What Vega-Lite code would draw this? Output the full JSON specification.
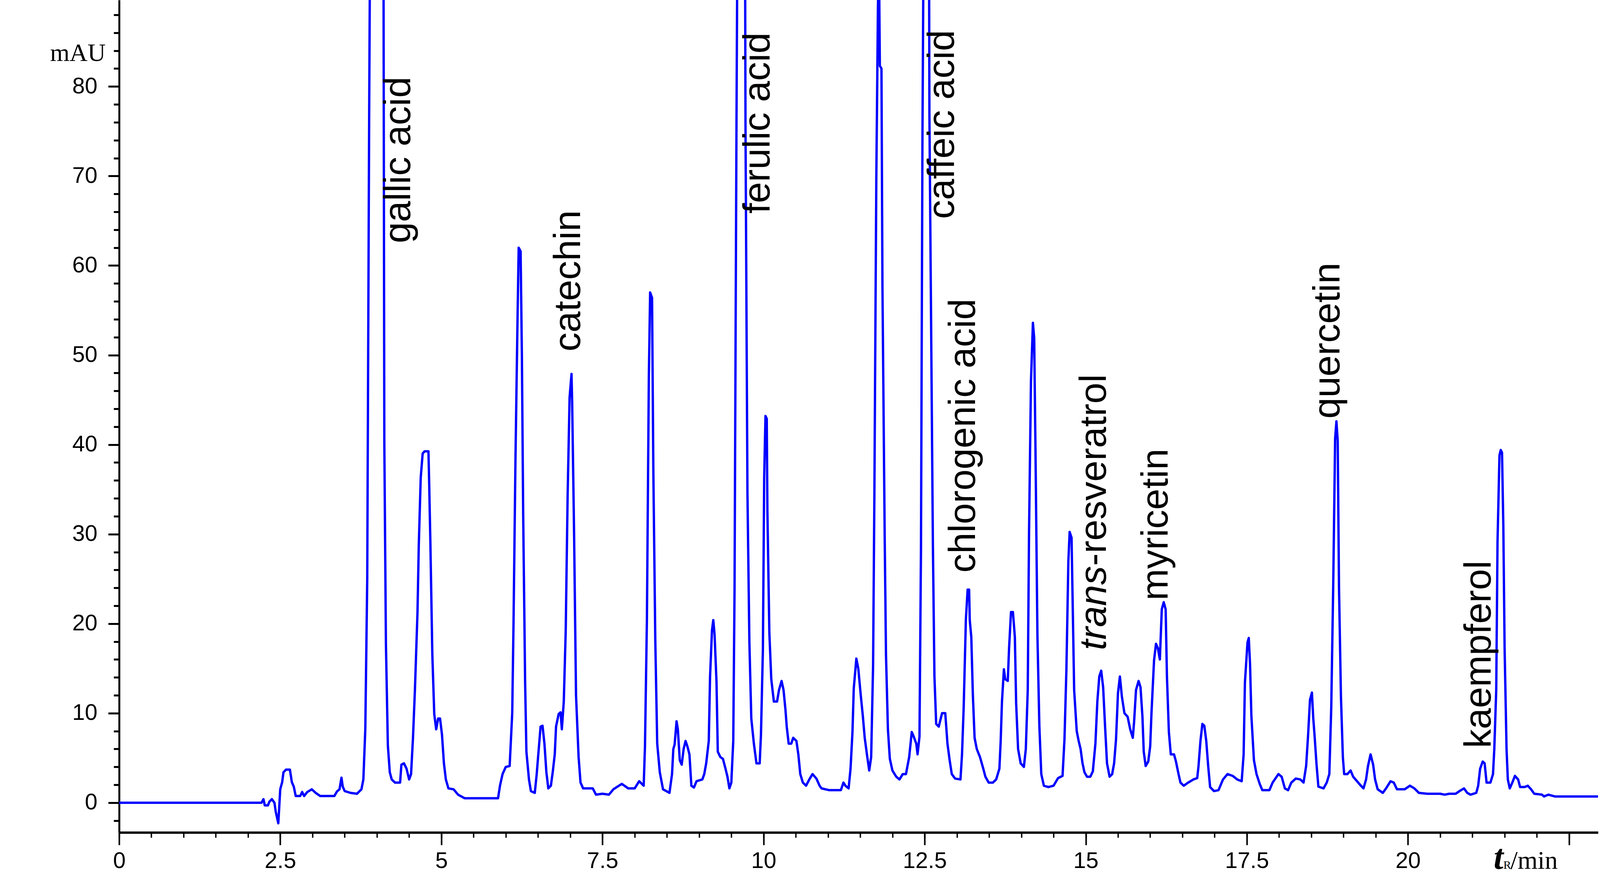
{
  "$schema": "https://vega.github.io/schema/vega-lite/v6.json",
  "width": 3786,
  "height": 2130,
  "autosize": {"type": "none"},
  "padding": {"left": 305, "top": 0, "right": 5, "bottom": 114},
  "background": "white",
  "datasets": {
    "trace": [
      {"t":0,"v":0},{"t":2.21,"v":0},{"t":2.24,"v":0.4},{"t":2.26,"v":-0.3},{"t":2.31,"v":-0.3},{"t":2.33,"v":0.1},{"t":2.37,"v":0.4},{"t":2.41,"v":0},{"t":2.43,"v":-1},{"t":2.47,"v":-2.3},{"t":2.5,"v":1.5},{"t":2.53,"v":2.3},{"t":2.55,"v":3.4},{"t":2.59,"v":3.7},{"t":2.65,"v":3.7},{"t":2.68,"v":2.3},{"t":2.71,"v":1.8},{"t":2.74,"v":0.75},{"t":2.81,"v":0.75},{"t":2.84,"v":1.2},{"t":2.87,"v":0.75},{"t":2.92,"v":1.2},{"t":2.99,"v":1.5},{"t":3.05,"v":1.1},{"t":3.12,"v":0.75},{"t":3.34,"v":0.75},{"t":3.38,"v":1.25},{"t":3.42,"v":1.5},{"t":3.45,"v":2.8},{"t":3.47,"v":1.8},{"t":3.5,"v":1.3},{"t":3.59,"v":1.1},{"t":3.69,"v":1.0},{"t":3.76,"v":1.5},{"t":3.79,"v":2.6},{"t":3.82,"v":8.2},{"t":3.85,"v":25},{"t":3.88,"v":77},{"t":3.9,"v":105},{"t":4.0,"v":160},{"t":4.1,"v":105},{"t":4.115,"v":40.4},{"t":4.14,"v":17.75},{"t":4.17,"v":6.4},{"t":4.2,"v":3.4},{"t":4.23,"v":2.6},{"t":4.28,"v":2.25},{"t":4.36,"v":2.25},{"t":4.38,"v":4.25},{"t":4.42,"v":4.4},{"t":4.46,"v":3.8},{"t":4.5,"v":2.6},{"t":4.53,"v":3.2},{"t":4.56,"v":7.25},{"t":4.59,"v":12.6},{"t":4.63,"v":21.3},{"t":4.65,"v":28.8},{"t":4.68,"v":36.3},{"t":4.71,"v":39},{"t":4.74,"v":39.25},{"t":4.8,"v":39.25},{"t":4.81,"v":36.1},{"t":4.83,"v":29},{"t":4.86,"v":16.6},{"t":4.89,"v":9.9},{"t":4.92,"v":8.2},{"t":4.95,"v":9.4},{"t":4.98,"v":9.4},{"t":5.01,"v":7.6},{"t":5.04,"v":4.4},{"t":5.07,"v":2.6},{"t":5.11,"v":1.6},{"t":5.19,"v":1.5},{"t":5.26,"v":0.9},{"t":5.36,"v":0.5},{"t":5.88,"v":0.5},{"t":5.91,"v":1.9},{"t":5.95,"v":3.2},{"t":6.0,"v":4},{"t":6.06,"v":4.1},{"t":6.1,"v":10},{"t":6.12,"v":20},{"t":6.15,"v":38.2},{"t":6.18,"v":53},{"t":6.2,"v":62},{"t":6.23,"v":61.6},{"t":6.25,"v":50},{"t":6.27,"v":32.2},{"t":6.3,"v":13.5},{"t":6.32,"v":5.7},{"t":6.36,"v":2.6},{"t":6.39,"v":1.3},{"t":6.45,"v":1.1},{"t":6.48,"v":3.2},{"t":6.5,"v":5},{"t":6.54,"v":8.5},{"t":6.57,"v":8.6},{"t":6.6,"v":6.6},{"t":6.63,"v":3.4},{"t":6.66,"v":1.6},{"t":6.7,"v":1.9},{"t":6.73,"v":3.5},{"t":6.76,"v":5.4},{"t":6.78,"v":8.5},{"t":6.82,"v":9.9},{"t":6.85,"v":10.1},{"t":6.87,"v":8.2},{"t":6.9,"v":11.3},{"t":6.93,"v":19.2},{"t":6.96,"v":34.4},{"t":6.99,"v":45.25},{"t":7.02,"v":47.9},{"t":7.03,"v":44.75},{"t":7.06,"v":30},{"t":7.09,"v":12},{"t":7.13,"v":5.1},{"t":7.16,"v":2.25},{"t":7.2,"v":1.6},{"t":7.35,"v":1.6},{"t":7.4,"v":0.9},{"t":7.5,"v":1.0},{"t":7.6,"v":0.9},{"t":7.67,"v":1.5},{"t":7.8,"v":2.1},{"t":7.9,"v":1.6},{"t":8.0,"v":1.6},{"t":8.07,"v":2.4},{"t":8.14,"v":1.9},{"t":8.16,"v":6.3},{"t":8.19,"v":20.4},{"t":8.22,"v":47.6},{"t":8.24,"v":57},{"t":8.27,"v":56.4},{"t":8.29,"v":37},{"t":8.32,"v":18.2},{"t":8.35,"v":6.6},{"t":8.39,"v":3.4},{"t":8.44,"v":1.5},{"t":8.54,"v":1.1},{"t":8.58,"v":3.2},{"t":8.6,"v":6},{"t":8.62,"v":6.5},{"t":8.65,"v":9.1},{"t":8.67,"v":8.2},{"t":8.7,"v":4.75},{"t":8.73,"v":4.25},{"t":8.76,"v":6},{"t":8.79,"v":6.9},{"t":8.82,"v":6.25},{"t":8.85,"v":5.4},{"t":8.88,"v":1.9},{"t":8.92,"v":1.7},{"t":8.96,"v":2.4},{"t":9.05,"v":2.6},{"t":9.08,"v":3.2},{"t":9.11,"v":4.4},{"t":9.15,"v":6.9},{"t":9.17,"v":14.1},{"t":9.2,"v":19.25},{"t":9.22,"v":20.4},{"t":9.24,"v":18.8},{"t":9.27,"v":13.5},{"t":9.29,"v":5.7},{"t":9.33,"v":5.1},{"t":9.37,"v":4.9},{"t":9.41,"v":3.8},{"t":9.44,"v":2.9},{"t":9.47,"v":1.6},{"t":9.5,"v":2.25},{"t":9.53,"v":6.9},{"t":9.55,"v":23.8},{"t":9.58,"v":75.7},{"t":9.6,"v":105},{"t":9.66,"v":170},{"t":9.71,"v":105},{"t":9.72,"v":75.5},{"t":9.75,"v":34.75},{"t":9.78,"v":18},{"t":9.81,"v":9.4},{"t":9.85,"v":6.6},{"t":9.89,"v":4.4},{"t":9.94,"v":4.4},{"t":9.96,"v":7.6},{"t":9.99,"v":17.1},{"t":10.01,"v":36.3},{"t":10.03,"v":43.2},{"t":10.05,"v":42.9},{"t":10.06,"v":32.6},{"t":10.09,"v":19},{"t":10.12,"v":13.8},{"t":10.16,"v":11.3},{"t":10.21,"v":11.3},{"t":10.24,"v":12.6},{"t":10.28,"v":13.6},{"t":10.31,"v":12.6},{"t":10.34,"v":10.4},{"t":10.36,"v":8.5},{"t":10.39,"v":6.6},{"t":10.43,"v":6.6},{"t":10.46,"v":7.25},{"t":10.51,"v":6.9},{"t":10.54,"v":5.4},{"t":10.57,"v":3.2},{"t":10.61,"v":2.25},{"t":10.66,"v":1.9},{"t":10.71,"v":2.6},{"t":10.76,"v":3.2},{"t":10.82,"v":2.7},{"t":10.87,"v":1.9},{"t":10.9,"v":1.6},{"t":11.02,"v":1.4},{"t":11.2,"v":1.4},{"t":11.24,"v":2.25},{"t":11.27,"v":1.9},{"t":11.32,"v":1.6},{"t":11.35,"v":3.8},{"t":11.38,"v":7.9},{"t":11.4,"v":12.75},{"t":11.44,"v":16.1},{"t":11.47,"v":15},{"t":11.51,"v":11.9},{"t":11.54,"v":9.75},{"t":11.57,"v":7.25},{"t":11.61,"v":5.1},{"t":11.64,"v":3.6},{"t":11.67,"v":5.1},{"t":11.7,"v":15.4},{"t":11.72,"v":34.4},{"t":11.75,"v":69.75},{"t":11.775,"v":88.8},{"t":11.79,"v":95},{"t":11.805,"v":82.3},{"t":11.83,"v":82},{"t":11.845,"v":57.9},{"t":11.88,"v":29.75},{"t":11.9,"v":16.6},{"t":11.93,"v":8.2},{"t":11.96,"v":4.9},{"t":12.0,"v":3.6},{"t":12.06,"v":2.9},{"t":12.11,"v":2.6},{"t":12.16,"v":3.2},{"t":12.21,"v":3.2},{"t":12.26,"v":5.1},{"t":12.3,"v":7.9},{"t":12.33,"v":7.4},{"t":12.37,"v":6.6},{"t":12.39,"v":5.4},{"t":12.42,"v":7.4},{"t":12.443,"v":28.2},{"t":12.466,"v":74.25},{"t":12.49,"v":105},{"t":12.53,"v":170},{"t":12.565,"v":105},{"t":12.574,"v":76.9},{"t":12.628,"v":28.8},{"t":12.652,"v":14.1},{"t":12.679,"v":8.8},{"t":12.719,"v":8.5},{"t":12.77,"v":10},{"t":12.82,"v":10},{"t":12.854,"v":6.6},{"t":12.888,"v":4.75},{"t":12.921,"v":3.2},{"t":12.972,"v":2.7},{"t":13.056,"v":2.6},{"t":13.08,"v":5.4},{"t":13.106,"v":10.7},{"t":13.14,"v":20.5},{"t":13.167,"v":23.8},{"t":13.19,"v":23.8},{"t":13.2,"v":20.4},{"t":13.224,"v":18.5},{"t":13.248,"v":12.1},{"t":13.275,"v":7.25},{"t":13.309,"v":6},{"t":13.359,"v":5.1},{"t":13.41,"v":3.8},{"t":13.443,"v":2.9},{"t":13.494,"v":2.25},{"t":13.56,"v":2.25},{"t":13.61,"v":2.6},{"t":13.66,"v":3.8},{"t":13.68,"v":6.9},{"t":13.7,"v":11.3},{"t":13.73,"v":14.9},{"t":13.75,"v":13.8},{"t":13.79,"v":13.6},{"t":13.81,"v":17.25},{"t":13.84,"v":21.3},{"t":13.87,"v":21.3},{"t":13.9,"v":18.5},{"t":13.92,"v":11.1},{"t":13.95,"v":6},{"t":13.99,"v":4.4},{"t":14.04,"v":4},{"t":14.07,"v":6},{"t":14.1,"v":12.6},{"t":14.12,"v":30.25},{"t":14.15,"v":47.1},{"t":14.18,"v":53.6},{"t":14.2,"v":51.9},{"t":14.22,"v":39.4},{"t":14.25,"v":18.8},{"t":14.28,"v":8.6},{"t":14.31,"v":3.2},{"t":14.35,"v":1.9},{"t":14.42,"v":1.75},{"t":14.5,"v":1.9},{"t":14.57,"v":2.75},{"t":14.64,"v":3},{"t":14.67,"v":7.1},{"t":14.7,"v":14.9},{"t":14.73,"v":26.9},{"t":14.75,"v":30.25},{"t":14.78,"v":29.6},{"t":14.8,"v":21.1},{"t":14.82,"v":12.6},{"t":14.86,"v":8},{"t":14.89,"v":6.9},{"t":14.92,"v":6},{"t":14.95,"v":4.4},{"t":14.98,"v":3.4},{"t":15.02,"v":2.9},{"t":15.07,"v":2.9},{"t":15.11,"v":3.5},{"t":15.15,"v":6.6},{"t":15.18,"v":11.3},{"t":15.21,"v":14.1},{"t":15.24,"v":14.75},{"t":15.27,"v":12.9},{"t":15.3,"v":8.5},{"t":15.33,"v":4.4},{"t":15.37,"v":2.9},{"t":15.41,"v":3.2},{"t":15.44,"v":4.4},{"t":15.47,"v":7.1},{"t":15.5,"v":12.25},{"t":15.53,"v":14.1},{"t":15.56,"v":11.9},{"t":15.6,"v":10},{"t":15.65,"v":9.6},{"t":15.69,"v":8.2},{"t":15.73,"v":7.25},{"t":15.75,"v":9},{"t":15.78,"v":12.6},{"t":15.82,"v":13.6},{"t":15.85,"v":12.9},{"t":15.88,"v":9.6},{"t":15.9,"v":5.7},{"t":15.93,"v":4.1},{"t":15.97,"v":4.6},{"t":16.0,"v":6.3},{"t":16.02,"v":10},{"t":16.06,"v":15.9},{"t":16.09,"v":17.75},{"t":16.12,"v":17.25},{"t":16.15,"v":16},{"t":16.18,"v":21.6},{"t":16.21,"v":22.4},{"t":16.24,"v":21.6},{"t":16.26,"v":14.1},{"t":16.29,"v":7.9},{"t":16.32,"v":5.4},{"t":16.37,"v":5.4},{"t":16.4,"v":4.6},{"t":16.44,"v":3.2},{"t":16.47,"v":2.25},{"t":16.52,"v":1.9},{"t":16.59,"v":2.25},{"t":16.67,"v":2.6},{"t":16.73,"v":2.75},{"t":16.75,"v":4.1},{"t":16.78,"v":6.9},{"t":16.81,"v":8.8},{"t":16.84,"v":8.6},{"t":16.87,"v":6.9},{"t":16.9,"v":4.1},{"t":16.93,"v":1.75},{"t":16.99,"v":1.3},{"t":17.06,"v":1.4},{"t":17.13,"v":2.6},{"t":17.2,"v":3.2},{"t":17.28,"v":3.0},{"t":17.35,"v":2.6},{"t":17.42,"v":2.4},{"t":17.45,"v":5.4},{"t":17.47,"v":13.4},{"t":17.51,"v":17.9},{"t":17.53,"v":18.4},{"t":17.55,"v":15.4},{"t":17.57,"v":9.75},{"t":17.61,"v":4.75},{"t":17.65,"v":3.2},{"t":17.7,"v":2.1},{"t":17.74,"v":1.4},{"t":17.85,"v":1.4},{"t":17.9,"v":2.25},{"t":17.99,"v":3.2},{"t":18.04,"v":2.9},{"t":18.09,"v":1.6},{"t":18.14,"v":1.4},{"t":18.19,"v":2.25},{"t":18.26,"v":2.7},{"t":18.33,"v":2.6},{"t":18.38,"v":2.25},{"t":18.42,"v":4.1},{"t":18.45,"v":7.5},{"t":18.48,"v":11.5},{"t":18.51,"v":12.3},{"t":18.53,"v":9.5},{"t":18.55,"v":7.6},{"t":18.58,"v":4.4},{"t":18.61,"v":1.8},{"t":18.69,"v":1.6},{"t":18.74,"v":2.25},{"t":18.78,"v":3.2},{"t":18.81,"v":10.7},{"t":18.84,"v":24.1},{"t":18.87,"v":40.7},{"t":18.89,"v":42.6},{"t":18.91,"v":40.4},{"t":18.93,"v":24.1},{"t":18.96,"v":11.9},{"t":18.99,"v":5.1},{"t":19.01,"v":3.2},{"t":19.06,"v":3.2},{"t":19.11,"v":3.6},{"t":19.15,"v":2.9},{"t":19.21,"v":2.4},{"t":19.27,"v":1.9},{"t":19.31,"v":1.6},{"t":19.35,"v":2.6},{"t":19.38,"v":4.1},{"t":19.42,"v":5.4},{"t":19.46,"v":4.25},{"t":19.49,"v":2.6},{"t":19.53,"v":1.5},{"t":19.61,"v":1.1},{"t":19.66,"v":1.6},{"t":19.73,"v":2.4},{"t":19.78,"v":2.25},{"t":19.83,"v":1.5},{"t":19.95,"v":1.5},{"t":20.03,"v":1.9},{"t":20.1,"v":1.6},{"t":20.17,"v":1.1},{"t":20.3,"v":1.0},{"t":20.5,"v":1.0},{"t":20.57,"v":0.9},{"t":20.64,"v":1.0},{"t":20.74,"v":1.0},{"t":20.8,"v":1.3},{"t":20.87,"v":1.6},{"t":20.92,"v":1.1},{"t":20.97,"v":0.9},{"t":21.06,"v":1.1},{"t":21.09,"v":1.9},{"t":21.12,"v":3.8},{"t":21.16,"v":4.6},{"t":21.19,"v":4.4},{"t":21.22,"v":2.25},{"t":21.28,"v":2.25},{"t":21.32,"v":3.2},{"t":21.34,"v":6},{"t":21.37,"v":12.6},{"t":21.39,"v":29.1},{"t":21.42,"v":38.8},{"t":21.44,"v":39.4},{"t":21.46,"v":39.1},{"t":21.48,"v":31},{"t":21.5,"v":17.25},{"t":21.53,"v":6},{"t":21.55,"v":2.6},{"t":21.58,"v":1.6},{"t":21.62,"v":2.25},{"t":21.66,"v":3.0},{"t":21.71,"v":2.6},{"t":21.74,"v":1.75},{"t":21.81,"v":1.75},{"t":21.86,"v":1.9},{"t":21.91,"v":1.5},{"t":21.96,"v":1.0},{"t":22.08,"v":0.9},{"t":22.11,"v":0.7},{"t":22.18,"v":0.9},{"t":22.28,"v":0.7},{"t":22.95,"v":0.7}
    ],
    "peaks": [
      {"t": 4.518, "v": 62.5, "label": "gallic acid"},
      {"t": 7.15, "v": 50.4, "label": "catechin"},
      {"t": 10.09, "v": 65.8, "label": "ferulic acid"},
      {"t": 12.955, "v": 65.2, "label": "caffeic acid"},
      {"t": 13.28, "v": 25.7, "label": "chlorogenic acid"},
      {"t": 15.31, "v": 26.45, "label": "-resveratrol"},
      {"t": 16.27, "v": 22.6, "label": "myricetin"},
      {"t": 18.94, "v": 42.9, "label": "quercetin"},
      {"t": 21.28, "v": 6.1, "label": "kaempferol"}
    ]
  },
  "layer": [
    {
      "mark": {"type": "rect", "filled": false, "stroke": "black", "strokeWidth": 7},
      "encoding": {
        "x": {
          "datum": -1.825, "type": "quantitative",
          "scale": {"domain": [0, 22.95], "nice": false, "zero": false},
          "axis": {"orient": "bottom", "values": [0,0.5,1,1.5,2,2.5,3,3.5,4,4.5,5,5.5,6,6.5,7,7.5,8,8.5,9,9.5,10,10.5,11,11.5,12,12.5,13,13.5,14,14.5,15,15.5,16,16.5,17,17.5,18,18.5,19,19.5,20,20.5,21,21.5,22,22.5],
                   "labels": false, "domain": false, "grid": false, "title": null, "tickSize": 13, "tickWidth": 3.5, "tickColor": "black"}
        },
        "x2": {"datum": 22.956},
        "y": {
          "datum": -8.12, "type": "quantitative",
          "scale": {"domain": [-3.32, 89.66], "nice": false, "zero": false},
          "axis": {"orient": "left", "values": [-2,0,2,4,6,8,10,12,14,16,18,20,22,24,26,28,30,32,34,36,38,40,42,44,46,48,50,52,54,56,58,60,62,64,66,68,70,72,74,76,78,80,82,84,86,88],
                   "labels": false, "domain": false, "grid": false, "title": null, "tickSize": 14, "tickWidth": 5, "tickColor": "black"}
        },
        "y2": {"datum": 95}
      }
    },
    {
      "data": {"name": "trace"},
      "mark": {"type": "line", "color": "#0000ff", "strokeWidth": 6, "clip": true, "strokeJoin": "round"},
      "encoding": {
        "x": {
          "field": "t", "type": "quantitative",
          "scale": {"domain": [0, 22.95], "nice": false, "zero": false},
          "axis": {"orient": "bottom", "values": [0,2.5,5,7.5,10,12.5,15,17.5,20,22.5],
                   "labelExpr": "datum.value == 22.5 ? '' : '' + datum.value",
                   "grid": false, "title": null, "tickSize": 32, "tickWidth": 4, "tickColor": "black",
                   "domainWidth": 6, "domainColor": "black", "labelPadding": 12,
                   "labelFont": "Liberation Sans", "labelFontSize": 58, "labelColor": "black", "labelFlush": false, "labelOverlap": false}
        },
        "y": {
          "field": "v", "type": "quantitative",
          "scale": {"domain": [-3.32, 89.66], "nice": false, "zero": false},
          "axis": {"orient": "left", "values": [0,10,20,30,40,50,60,70,80],
                   "grid": false, "tickSize": 28, "tickWidth": 5, "tickColor": "black",
                   "domainWidth": 5, "domainColor": "black", "labelPadding": 28,
                   "labelFont": "Liberation Sans", "labelFontSize": 58, "labelColor": "black", "labelFlush": false, "labelOverlap": false,
                   "title": "mAU", "titleAngle": 0, "titleAlign": "right", "titleBaseline": "alphabetic",
                   "titleX": -35, "titleY": 155, "titleFont": "Liberation Serif", "titleFontSize": 64,
                   "titleFontWeight": "normal", "titleColor": "black"}
        }
      }
    },
    {
      "data": {"name": "peaks"},
      "mark": {"type": "text", "angle": 270, "align": "left", "baseline": "alphabetic",
               "font": "Liberation Sans", "fontSize": 97, "color": "black"},
      "encoding": {
        "x": {"field": "t", "type": "quantitative", "axis": null},
        "y": {"field": "v", "type": "quantitative", "axis": null},
        "text": {"field": "label"}
      }
    },
    {
      "data": {"values": [{"t": 15.31, "v": 26.45, "label": "trans"}]},
      "mark": {"type": "text", "angle": 270, "align": "right", "baseline": "alphabetic",
               "font": "Liberation Sans", "fontSize": 97, "fontStyle": "italic", "color": "black"},
      "encoding": {
        "x": {"field": "t", "type": "quantitative", "axis": null},
        "y": {"field": "v", "type": "quantitative", "axis": null},
        "text": {"field": "label"}
      }
    },
    {
      "data": {"values": [{"t": 21.33, "v": -7.4, "label": "t"}]},
      "mark": {"type": "text", "align": "left", "baseline": "alphabetic",
               "font": "Liberation Serif", "fontSize": 90, "fontStyle": "italic", "fontWeight": "bold", "color": "black"},
      "encoding": {
        "x": {"field": "t", "type": "quantitative", "axis": null},
        "y": {"field": "v", "type": "quantitative", "axis": null},
        "text": {"field": "label"}
      }
    },
    {
      "data": {"values": [{"t": 21.48, "v": -7.4, "label": "R"}]},
      "mark": {"type": "text", "align": "left", "baseline": "alphabetic",
               "font": "Liberation Serif", "fontSize": 30, "color": "black"},
      "encoding": {
        "x": {"field": "t", "type": "quantitative", "axis": null},
        "y": {"field": "v", "type": "quantitative", "axis": null},
        "text": {"field": "label"}
      }
    },
    {
      "data": {"values": [{"t": 21.59, "v": -7.4, "label": "/min"}]},
      "mark": {"type": "text", "align": "left", "baseline": "alphabetic",
               "font": "Liberation Serif", "fontSize": 66, "color": "black"},
      "encoding": {
        "x": {"field": "t", "type": "quantitative", "axis": null},
        "y": {"field": "v", "type": "quantitative", "axis": null},
        "text": {"field": "label"}
      }
    }
  ],
  "resolve": {"axis": {"x": "independent", "y": "independent"}},
  "config": {"view": {"stroke": null}}
}
